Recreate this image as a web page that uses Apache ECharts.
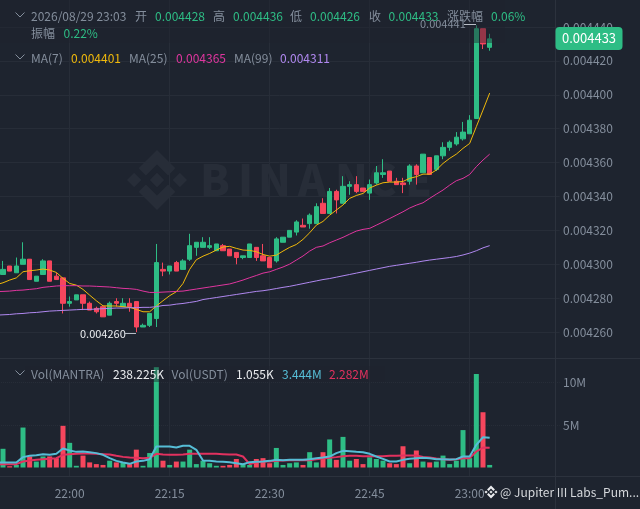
<!DOCTYPE html>
<html><head><meta charset="utf-8">
<style>html,body{margin:0;padding:0;background:#1e242f}#c{width:640px;height:509px}</style>
<script src="https://cdn.jsdelivr.net/npm/echarts@6/dist/echarts.min.js"></script>
</head><body><div id="c"></div>
<script>
// prices in millionths
const openP=[4294,4299,4295,4300,4303,4290,4294,4302,4293,4292,4277,4279,4282,4277,4274,4275,4270,4278,4275,4277,4278,4263,4264,4268,4297,4296,4301,4297,4303,4310,4310,4310,4308,4311,4309,4307,4304,4304,4310,4305,4304,4302,4313,4316,4319,4323,4324,4324,4336,4330,4343,4336,4346,4347,4345,4342,4348,4353,4355,4349,4348,4349,4358,4354,4363,4356,4364,4369,4371,4374,4377,4386,4439,4428];
const closeP=[4297,4296,4299,4303,4291,4293,4302,4290,4291,4277,4278,4282,4277,4273,4272,4269,4277,4277,4277,4275,4263,4264,4271,4301,4296,4299,4296,4302,4311,4313,4313,4311,4312,4308,4305,4304,4305,4312,4304,4302,4298,4315,4316,4320,4325,4322,4329,4334,4330,4343,4338,4346,4347,4343,4343,4347,4354,4354,4349,4347,4347,4358,4353,4365,4353,4364,4369,4372,4375,4378,4385,4439,4430,4433];
const lowP=[4294,4296,4295,4300,4291,4290,4294,4290,4291,4271,4275,4279,4273,4273,4271,4269,4270,4275,4275,4272,4260,4263,4263,4263,4293,4294,4296,4297,4302,4305,4310,4309,4308,4308,4305,4300,4303,4304,4302,4302,4298,4301,4313,4316,4317,4322,4321,4324,4330,4330,4330,4336,4341,4342,4343,4338,4347,4351,4349,4347,4342,4347,4347,4354,4353,4355,4362,4367,4370,4373,4377,4386,4427,4426];
const highP=[4302,4299,4304,4313,4303,4293,4303,4302,4295,4292,4281,4282,4282,4278,4275,4275,4278,4280,4280,4280,4278,4265,4271,4312,4301,4299,4302,4303,4318,4313,4316,4316,4312,4312,4309,4307,4305,4312,4310,4312,4304,4316,4316,4320,4326,4327,4330,4336,4339,4345,4344,4352,4349,4352,4345,4350,4358,4362,4355,4351,4351,4359,4359,4365,4363,4364,4372,4373,4378,4384,4388,4441,4439,4436];
// the moving averages start one minute earlier, just off the left edge
const ma7=[4288,4289.1,4290.7,4292,4295.6,4296.2,4296.6,4297.2,4296.6,4295.2,4291.7,4288.7,4287.7,4285.2,4281.8,4278.5,4275.5,4275.4,4275.4,4275,4274.6,4273.4,4272,4272,4275.4,4278.5,4281.5,4283.8,4288.7,4297,4302.7,4304.8,4306.4,4308.4,4310.2,4310.6,4309.4,4308.4,4308.2,4307.4,4305.8,4304.8,4305.4,4307.8,4310,4311.7,4314.7,4318.6,4323.1,4325.3,4329,4332,4335,4338.9,4340.6,4341.8,4345,4346.7,4348.1,4348.5,4348.5,4348.9,4350.7,4351.7,4353.2,4353.2,4355.6,4359.5,4362.5,4365,4368.4,4371.3,4381.2,4391,4401];
const ma25=[4283.9,4284,4284.2,4284.6,4284.8,4285.2,4285.6,4286.4,4286.8,4287.2,4287.4,4287.4,4287.4,4287.2,4287.2,4287,4286.8,4286.6,4286.2,4285.8,4285.6,4285.2,4284.2,4283.4,4283.4,4283.6,4283.8,4284,4284.2,4284.8,4285.4,4286,4286.6,4287.2,4287.8,4288.4,4289.5,4290.7,4292.1,4293.4,4294.8,4295.6,4297,4298.4,4300.1,4302.5,4304.9,4307.8,4310,4310.8,4312.7,4314.3,4315.9,4317.8,4319.6,4320.6,4321.2,4323.1,4325,4327,4329,4331,4333.2,4334.9,4336.3,4338.9,4341.4,4343.8,4346.7,4349.3,4350.7,4353,4357.6,4361.5,4365];
const ma99=[4270,4270.2,4270.4,4270.8,4271,4271.4,4271.6,4272,4272.4,4272.6,4272.8,4273,4273.2,4273.4,4273.4,4273.6,4273.8,4274,4274.2,4274.2,4274.4,4274.4,4274.6,4274.6,4275,4275.7,4275.9,4276.5,4276.9,4277.5,4278.1,4279.2,4279.8,4280.4,4281,4281.6,4282.2,4282.8,4283.4,4284,4284.4,4285,4285.7,4286.4,4287,4287.8,4288.6,4289.4,4290.2,4291,4291.6,4292.4,4293.2,4294,4294.8,4295.6,4296.4,4297.2,4298,4298.8,4299.4,4300,4300.6,4301.2,4301.9,4302.5,4303,4303.5,4304,4304.6,4305.5,4306.6,4308,4309.7,4311];
// volume in millions
const volume=[2.2,.15,.3,4.7,1.3,.7,1.3,1.3,1.1,4.9,2.9,.2,1.4,.6,.4,.3,.8,.6,.6,.4,2.1,.2,1.7,11.8,.8,.3,.7,.7,2.1,.4,.8,.5,.2,.2,.3,1,.4,.3,1,1.1,.5,2.3,.3,.5,.6,.3,1.8,.6,1.8,3.3,.9,3.6,.8,1,.4,1.2,1,.8,.5,.4,2.5,.5,2,.7,.6,.7,1.4,.4,.8,4.4,1.1,11,6.5,.3];
const volMaBlue=[.59,.59,.59,.59,1.22,1.37,1.45,1.57,1.49,1.61,2.23,2,1.84,1.88,1.8,1.69,1.49,1.1,.78,.59,.43,.71,.78,.98,2.47,2.47,2.47,2.35,2.55,2.55,2.08,.82,.78,.71,.67,.63,.51,.39,.63,.67,.71,.78,.9,.86,.9,.9,.9,.98,1.1,1.18,1.29,1.69,1.96,1.92,1.84,1.8,1.61,1.29,1.02,.71,.71,.9,1.02,1.1,1.14,1.1,.98,.98,.94,.98,1.29,1.29,2.67,3.56,3.49];
const volMaPink=[.39,.39,.39,.39,.71,.82,.9,.98,1.02,1.1,1.49,1.57,1.61,1.65,1.65,1.61,1.57,1.53,1.37,1.25,1.18,1.14,1.1,1.14,1.61,1.53,1.49,1.49,1.53,1.61,1.61,1.61,1.61,1.61,1.57,1.53,1.53,1.29,.39,.63,.71,.71,.78,.82,.86,.86,.86,.86,.98,1.06,1.14,1.22,1.33,1.37,1.37,1.33,1.33,1.33,1.33,1.37,1.37,1.41,1.41,1.41,1.25,1.18,1.06,.98,.9,.98,1.1,1.1,1.88,2.35,2.31];
const priceTicks=[4260,4280,4300,4320,4340,4360,4380,4400,4420,4440];
const volTicks=[5,10];
const timeTicks=['22:00','22:15','22:30','22:45','23:00'];

const GREEN='#2ebd85',RED='#f6465d',GRAY='#848e9c',BG='#1e242f',LINE='#272d38',SEP='#2c323d';
const C7='#f0b90b',C25='#e0369f',C99='#b088f0',CB='#56bdd6',CP='#e2315f';
const FONT='"Noto Sans CJK SC","Noto Sans",sans-serif';

const times=[];for(let i=0;i<85;i++){const m=21*60+49+i;times.push(String(Math.floor(m/60)).padStart(2,'0')+':'+String(m%60).padStart(2,'0'));}
const tickIdx=(i,v)=>timeTicks.includes(v);
const candles=['-'].concat(openP.map((o,i)=>[o,closeP[i],lowP[i],highP[i]]));
const volBars=['-'].concat(volume.map((v,i)=>({value:v,itemStyle:{color:closeP[i]>=openP[i]?GREEN:RED}})));
const fmt=v=>(v/1e6).toFixed(6);

const t=(text,x,y,fill,extra)=>({type:'text',z:60,silent:true,style:Object.assign({text,x,y,fill,font:'12px '+FONT,verticalAlign:'middle'},extra||{})});
const ln=(x1,y1,x2,y2,stroke,z)=>({type:'line',z:z||5,silent:true,shape:{x1,y1,x2,y2},style:{stroke,lineWidth:1}});
const chev=(x,y)=>({type:'polyline',z:60,silent:true,shape:{points:[[x-4.5,y-2.5],[x,y+2],[x+4.5,y-2.5]]},style:{stroke:GRAY,lineWidth:1,fill:'none'}});
function logo(cx,cy,r,color,z){
  const P=pts=>({type:'polygon',z,silent:true,shape:{points:pts.map(p=>[cx+p[0]*r,cy+p[1]*r])},style:{fill:color}});
  const d=(x,y,s)=>P([[x,y-s],[x+s,y],[x,y+s],[x-s,y]]);
  const top=[[0,-1],[.61,-.39],[.37,-.15],[0,-.52],[-.37,-.15],[-.61,-.39]];
  return [d(0,0,.24),d(-.76,0,.24),d(.76,0,.24),P(top),P(top.map(p=>[p[0],-p[1]]))];
}
const wmLetters=[['B',200],['I',238],['N',258],['A',298],['N',335],['C',368],['E',405]];
const graphics=[
  ...logo(157,180,30,'#272d38',1),
  ...wmLetters.map(l=>({type:'text',z:1,silent:true,style:{text:l[0],x:l[1],y:180,fill:'#272d38',font:'900 43px '+FONT,verticalAlign:'middle'}})),
  ln(0,358.5,640,358.5,SEP),ln(0,476.5,640,476.5,SEP),ln(555.5,0,555.5,509,SEP),
  {type:'rect',z:50,silent:true,shape:{x:0,y:0,width:505,height:43},style:{fill:'rgba(30,36,47,.45)'}},
  {type:'rect',z:50,silent:true,shape:{x:25,y:366,width:360,height:16},style:{fill:'rgba(30,36,47,.45)'}},
  chev(20,15),chev(20,57),chev(20,373),
  t('2026/08/29 23:03',31,16,GRAY),t('开',135,16,GRAY),t('0.004428',155,16,GREEN),t('高',213,16,GRAY),t('0.004436',233,16,GREEN),
  t('低',290,16,GRAY),t('0.004426',310,16,GREEN),t('收',369,16,GRAY),t('0.004433',388.5,16,GREEN),t('涨跌幅',447,16,GRAY),t('0.06%',491,16,GREEN),
  t('振幅',31,33,GRAY),t('0.22%',63.5,33,GREEN),
  t('MA(7)',31,58,GRAY),t('0.004401',71,58,C7),t('MA(25)',129,58,GRAY),t('0.004365',176,58,C25),t('MA(99)',234,58,GRAY),t('0.004311',280,58,C99),
  t('Vol(MANTRA)',31,374,GRAY),t('238.225K',113,374,'#eaecef'),t('Vol(USDT)',171.5,374,GRAY),t('1.055K',236,374,'#eaecef'),t('3.444M',282,374,CB),t('2.282M',329,374,CP),
  t('0.004441',420,24,GRAY,{font:'11px '+FONT}),ln(464,24.5,476,24.5,'#b7bdc6',60),
  t('0.004260',80,334,'#eaecef',{font:'11px '+FONT}),ln(124,333.5,136,333.5,'#b7bdc6',60),
  {type:'rect',z:60,silent:true,shape:{x:555.5,y:27,width:67,height:23,r:4},style:{fill:GREEN}},
  t('0.004433',589,38.5,'#ffffff',{textAlign:'center',font:'13px '+FONT}),
  ...logo(491,492,6.5,'#eaecef',60),
  t('@ Jupiter III Labs_Pum...',500,492,'#d5d8dc'),
];
const chart=echarts.init(document.getElementById('c'),null,{renderer:'canvas'});
chart.setOption({
  animation:false,backgroundColor:BG,
  grid:[{left:-7,width:566.67,top:0,height:358,outerBoundsMode:'none'},{left:-7,width:566.67,top:358,height:118,outerBoundsMode:'none'}],
  xAxis:[
    {type:'category',gridIndex:0,data:times,boundaryGap:true,axisLine:{show:false},axisTick:{show:false},axisLabel:{show:false},
      splitLine:{show:true,interval:tickIdx,alignWithLabel:true,lineStyle:{color:LINE,width:1}}},
    {type:'category',gridIndex:1,data:times,boundaryGap:true,axisLine:{show:false},axisTick:{show:false},
      axisLabel:{show:true,interval:tickIdx,color:GRAY,fontSize:12,fontFamily:FONT,margin:11},
      splitLine:{show:true,interval:tickIdx,alignWithLabel:true,lineStyle:{color:LINE,width:1}}}
  ],
  yAxis:[
    {type:'value',gridIndex:0,position:'right',offset:-4.7,min:4244.72,max:4455.93,
      axisLine:{show:false},axisTick:{show:false,customValues:priceTicks},
      axisLabel:{customValues:priceTicks,color:GRAY,fontSize:12,fontFamily:FONT,margin:8,formatter:fmt},
      splitLine:{show:true,lineStyle:{color:LINE,width:1}}},
    {type:'value',gridIndex:1,position:'right',offset:-4.7,min:-1,max:12.88,
      axisLine:{show:false},axisTick:{show:false,customValues:volTicks},
      axisLabel:{customValues:volTicks,color:GRAY,fontSize:12,fontFamily:FONT,margin:8,formatter:v=>v+'M'},
      splitLine:{show:true,lineStyle:{color:LINE,width:1,type:'dotted'}}}
  ],
  series:[
    {type:'candlestick',name:'K',xAxisIndex:0,yAxisIndex:0,data:candles,barWidth:5,z:3,
      itemStyle:{color:GREEN,color0:RED,borderColor:GREEN,borderColor0:RED,borderWidth:1}},
    {type:'line',name:'MA7',data:ma7,xAxisIndex:0,yAxisIndex:0,showSymbol:false,z:4,lineStyle:{color:C7,width:1}},
    {type:'line',name:'MA25',data:ma25,xAxisIndex:0,yAxisIndex:0,showSymbol:false,z:4,lineStyle:{color:C25,width:1}},
    {type:'line',name:'MA99',data:ma99,xAxisIndex:0,yAxisIndex:0,showSymbol:false,z:4,lineStyle:{color:C99,width:1}},
    {type:'bar',name:'Vol',data:volBars,xAxisIndex:1,yAxisIndex:1,barWidth:5,z:3},
    {type:'line',name:'VolMA1',data:volMaPink,xAxisIndex:1,yAxisIndex:1,showSymbol:false,z:4,lineStyle:{color:CP,width:2}},
    {type:'line',name:'VolMA2',data:volMaBlue,xAxisIndex:1,yAxisIndex:1,showSymbol:false,z:4,lineStyle:{color:CB,width:2}}
  ],
  graphic:graphics
});
</script></body></html>
